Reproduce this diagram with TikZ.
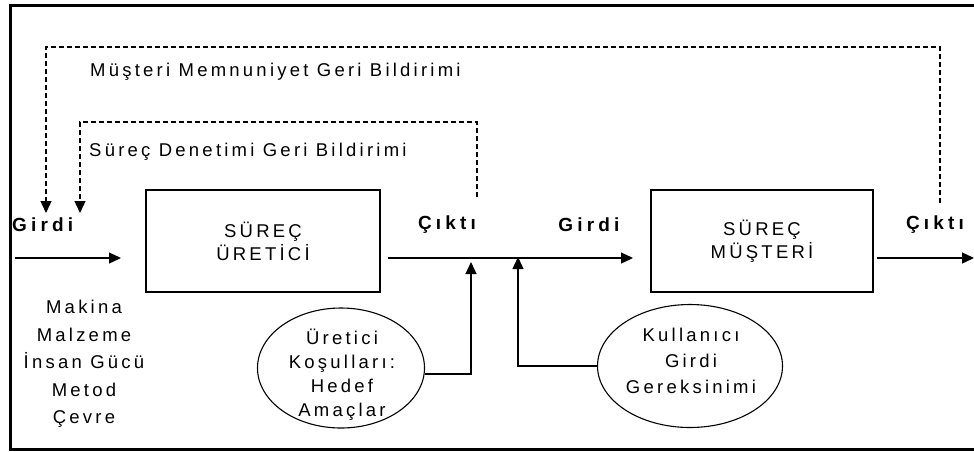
\documentclass[tikz,border=0pt]{standalone}
\usepackage{fontspec}
\setmainfont{Liberation Sans}[LetterSpace=17.5]
\newfontfamily\wideboldfont{Liberation Sans}[LetterSpace=22]
\usetikzlibrary{arrows.meta,shapes.geometric}
\begin{document}
\begin{tikzpicture}[x=1pt,y=-1pt,
  txt/.style={font=\fontsize{18.5}{23}\selectfont, inner sep=0pt, align=center},
  bold/.style={inner sep=0pt, font=\fontsize{19}{23}\selectfont\wideboldfont\bfseries},
  procbox/.style={draw, line width=2.2pt, inner sep=0pt, align=center,
    font=\fontsize{18.5}{23}\selectfont},
  goal/.style={draw, ellipse, line width=1.1pt, inner sep=0pt},
  flow/.style={line width=1.3pt, -{Triangle[length=12pt,width=11pt]}},
  feed/.style={line width=1.3pt, dash pattern=on 5pt off 3pt,
    -{Triangle[length=12pt,width=11pt]}}]
\useasboundingbox (0,0) rectangle (974,451);

% outer frame (open on the right)
\draw[line width=3pt] (974,5) -- (10.5,5) -- (10.5,449) -- (974,449);

% process boxes
\node[procbox, minimum width=234pt, minimum height=102pt] (prod) at (263,241)
  {SÜREÇ\\ÜRETİCİ};
\node[procbox, minimum width=222pt, minimum height=102pt] (cust) at (762,241)
  {SÜREÇ\\MÜŞTERİ};

% flow labels
\node[bold, anchor=west] (in1) at (12,225) {Girdi};
\node[bold] (out1) at (447,225) {Çıktı};
\node[bold] (in2) at (589,225) {Girdi};
\node[bold] (out2) at (935,225) {Çıktı};

% resources
\node[txt, font=\fontsize{18.5}{27.5}\selectfont] (res) at (84,364)
  {Makina\\Malzeme\\İnsan Gücü\\Metod\\Çevre};

% requirement ellipses
\node[goal, minimum width=167pt, minimum height=120pt] (e1) at (341,368) {};
\node[txt, font=\fontsize{18.5}{24}\selectfont] (e1t) at (342,375)
  {Üretici\\Koşulları:\\Hedef\\Amaçlar};
\node[goal, minimum width=185pt, minimum height=123pt] (e2) at (690,366) {};
\node[txt, font=\fontsize{18.5}{26}\selectfont] (e2t) at (691,361)
  {Kullanıcı\\Girdi\\Gereksinimi};

% feedback labels
\node[txt, anchor=west] (fbm) at (90,72) {Müşteri Memnuniyet Geri Bildirimi};
\node[txt, anchor=west] (fbp) at (89,152) {Süreç Denetimi Geri Bildirimi};

% main flow
\coordinate (src) at (15,258);
\coordinate (p1in) at (121,258);
\coordinate (p1out) at (388,258);
\coordinate (p2in) at (633,258);
\coordinate (p2out) at (877,258);
\coordinate (sink) at (974,258);
\draw[flow] (src) -- (p1in);
\draw[flow] (p1out) -- (p2in);
\draw[flow] (p2out) -- (sink);

% requirements feeding the link
\coordinate (t1) at (471,262);
\coordinate (t2) at (518,257);
\draw[flow] (e1.-4) -| (t1);
\draw[flow] (e2.west) -| (t2);

% feedback loops
\coordinate (fbms) at (940,203);
\coordinate (fbme) at (46,213);
\draw[feed] (fbms) -- (940,47) -- (46,47) -- (fbme);
\coordinate (fbps) at (477,197);
\coordinate (fbpe) at (80,213);
\draw[feed] (fbps) -- (477,122) -- (80,122) -- (fbpe);
\end{tikzpicture}
\end{document}
